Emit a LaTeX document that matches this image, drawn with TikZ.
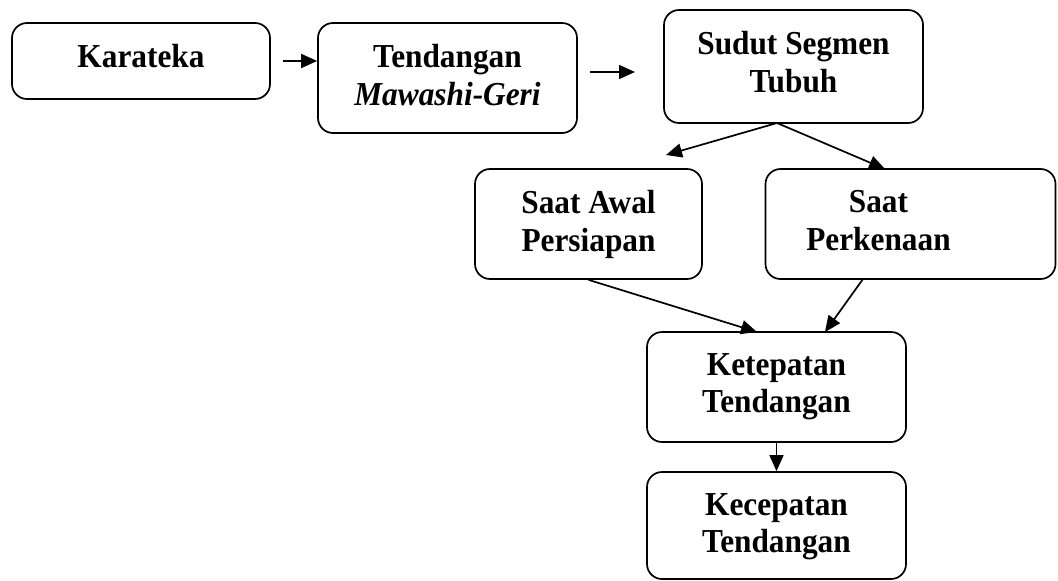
\documentclass[tikz,border=0pt]{standalone}
\usepackage{fontspec}
\setmainfont{Liberation Serif}
\newfontfamily\boxfont[FakeStretch=0.935]{Liberation Serif}
\usetikzlibrary{arrows.meta}
\begin{document}
\begin{tikzpicture}[x=1pt,y=-1pt,
  box/.style={draw=black, line width=1.7pt, rounded corners=15pt, inner sep=0pt},
  lbl/.style={align=center, inner sep=0pt, anchor=north,
    font=\boxfont\fontsize{33.5}{37.5}\selectfont\bfseries},
  arr/.style={line width=1.7pt, -{Triangle[length=16pt,width=14pt]}}]
\useasboundingbox (0,0) rectangle (1058,581);
% boxes
\node[box, minimum width=258pt, minimum height=76pt] (kar) at (141,61) {};
\node[box, minimum width=259pt, minimum height=110pt] (tend) at (447.5,78) {};
\node[box, minimum width=259pt, minimum height=113pt] (sud) at (793.5,66.5) {};
\node[box, minimum width=227pt, minimum height=110pt] (awal) at (588.5,224) {};
\node[box, minimum width=290pt, minimum height=110pt] (perk) at (910.5,224) {};
\node[box, minimum width=259pt, minimum height=110pt] (ket) at (776.5,387) {};
\node[box, minimum width=259pt, minimum height=107pt] (kec) at (776.5,525.5) {};
% texts
\node[lbl] (kart) at ([yshift=-22pt]kar.north) {Karateka};
\node[lbl] (tendt) at ([yshift=-22pt]tend.north) {Tendangan\\\textit{Mawashi-Geri}};
\node[lbl] (sudt) at ([yshift=-22pt]sud.north) {Sudut Segmen\\Tubuh};
\node[lbl] (awalt) at ([yshift=-22pt]awal.north) {Saat Awal\\Persiapan};
\node[lbl] (perkt) at ([yshift=-22pt,xshift=-32pt]perk.north) {Saat\\Perkenaan};
\node[lbl] (kett) at ([yshift=-22pt]ket.north) {Ketepatan\\Tendangan};
\node[lbl] (kect) at ([yshift=-22pt]kec.north) {Kecepatan\\Tendangan};
% connectors
\coordinate (a2s) at (590,72);
\coordinate (a2e) at (635,72);
\coordinate (sbot) at (777,123);
\coordinate (awaltip) at (666,155);
\draw[arr] ([xshift=12pt]kar.east) -- (kar.east -| tend.west);
\draw[arr] (a2s) -- (a2e);
\draw[arr] (sbot) -- (awaltip);
\draw[arr] (sbot) -- (885,169);
\draw[arr] (awal.south) -- (757,332);
\draw[arr] (863,279) -- (825,332);
\draw[arr] (ket.south) -- (kec.north);
\end{tikzpicture}
\end{document}
